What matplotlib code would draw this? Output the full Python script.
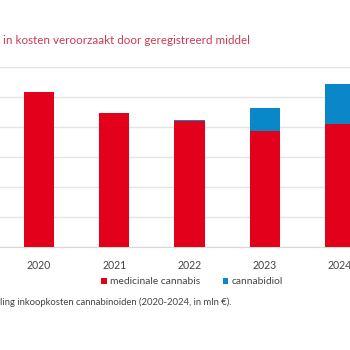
import matplotlib
matplotlib.use("Agg")
import matplotlib.pyplot as plt
import numpy as np

plt.rcParams['font.family'] = ['Lato', 'DejaVu Sans']

# data (mln euro)
years = ['2020', '2021', '2022', '2023', '2024']
medicinale_cannabis = [51.7, 44.7, 42.0, 38.7, 41.0]
cannabidiol = [0.0, 0.0, 0.4, 7.6, 13.3]

red = '#e2001a'
blue = '#0a87c8'
title_col = '#c93a58'
text_col = '#444444'

W, H = 350, 350
fig = plt.figure(figsize=(W / 100, H / 100), dpi=100)

# axes placed so the left part of the chart falls outside the picture
x0, x1 = -36.25, 415.25   # pixel positions of xlim(-1, 5)
ytop, ybot = 67, 247      # pixel rows (from top) of ylim(60, 0)
ax = fig.add_axes([x0 / W, (H - ybot) / H, (x1 - x0) / W, (ybot - ytop) / H])

x = np.arange(len(years))
ax.bar(x, medicinale_cannabis, width=0.4, color=red, label='medicinale cannabis', zorder=3)
ax.bar(x, cannabidiol, width=0.4, bottom=medicinale_cannabis, color=blue,
       label='cannabidiol', zorder=3)

ax.set_xlim(-1, 5)
ax.set_ylim(0, 60)
ax.set_yticks(np.arange(0, 61, 10))
ax.yaxis.grid(True, color='#e4e4e4', linewidth=1, zorder=0)
ax.tick_params(axis='y', left=False, labelleft=False)
ax.tick_params(axis='x', bottom=False, labelsize=7.6, labelcolor=text_col, pad=6)
ax.set_xticks(x)
ax.set_xticklabels(years)
for s in ['top', 'right', 'left']:
    ax.spines[s].set_visible(False)
ax.spines['bottom'].set_color('#d8d8d8')

fig.text(3 / W, 1 - 40 / H, 'in kosten veroorzaakt door geregistreerd middel',
         color=title_col, fontsize=8.4, va='center', ha='left')

leg = fig.legend(loc='center', bbox_to_anchor=(192 / W, 1 - 282 / H), ncol=2,
                 frameon=False, fontsize=7.4, handlelength=0.55, handleheight=0.55,
                 handletextpad=0.3, columnspacing=2.2, labelcolor=text_col)

fig.text(0 / W, 1 - 302 / H, 'ling inkoopkosten cannabinoïden (2020-2024, in mln €).',
         color=text_col, fontsize=6.85, va='center', ha='left')

fig.savefig('out.png', dpi=100, facecolor='white')
